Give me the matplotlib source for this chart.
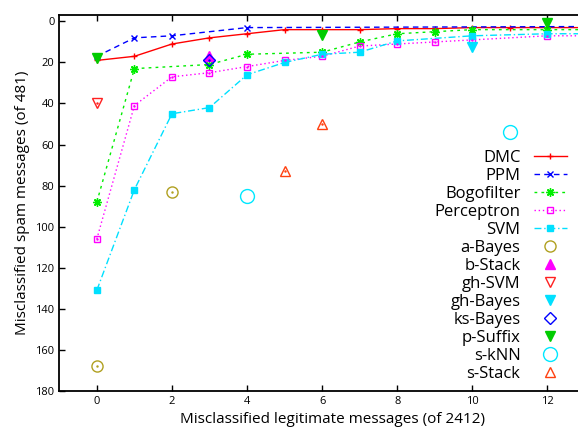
import matplotlib
matplotlib.use("Agg")
import matplotlib.pyplot as plt

plt.rcParams["font.family"] = ["Open Sans", "DejaVu Sans"]

# curves: misclassified legitimate (x) vs misclassified spam (y)
dmc_x = [0, 1, 2, 3, 4, 5, 6, 7, 8, 9, 10, 11, 12, 13]
dmc_y = [19, 17, 11, 8, 6, 4, 4, 4, 3.5, 3.5, 3, 3, 3, 3]

ppm_x = [0, 1, 2, 4, 13]
ppm_y = [17, 8, 7, 3, 2.5]

bogo_x = [0, 1, 3, 4, 6, 7, 8, 9, 10, 12, 13]
bogo_y = [88, 23, 21, 16, 15, 10, 6, 5, 4, 4, 4]

perc_x = [0, 1, 2, 3, 4, 5, 6, 7, 8, 9, 10, 12, 13]
perc_y = [106, 41, 27, 25, 22, 19, 17, 12, 11, 10, 9, 7, 7]

svm_x = [0, 1, 2, 3, 4, 5, 6, 7, 8, 10, 12, 13]
svm_y = [131, 82, 45, 42, 26, 20, 16, 15, 9.5, 7, 6, 6]

# single operating points
abayes_x, abayes_y = [0, 2], [168, 83]
bstack_x, bstack_y = [3], [17]
ghsvm_x, ghsvm_y = [0], [40]
ghbayes_x, ghbayes_y = [10], [12.5]
ksbayes_x, ksbayes_y = [3], [19]
psuffix_x, psuffix_y = [0, 6, 12], [18, 6.5, 1]
sknn_x, sknn_y = [4, 11], [85, 54]
sstack_x, sstack_y = [5, 6], [73, 50]

fig = plt.figure(figsize=(5.78, 4.28), dpi=100)
ax = fig.add_axes([0.1026, 0.0871, 0.9094, 0.8772])

ax.plot(dmc_x, dmc_y, color="#ff0000", lw=1, marker="+", ms=5, mew=1, label="DMC")
ax.plot(ppm_x, ppm_y, color="#0000ff", lw=1, ls=(0, (4, 3)), marker="x", ms=4, mew=1, label="PPM")
ax.plot(bogo_x, bogo_y, color="#00ee00", lw=1, ls=(0, (2, 3)), marker=(8, 2, 0), ms=6, mew=1, label="Bogofilter")
ax.plot(perc_x, perc_y, color="#ff00ff", lw=1, ls=(0, (1, 2)), marker="s", ms=5, mfc="none", mew=1, label="Perceptron")
ax.plot(svm_x, svm_y, color="#00e0ff", lw=1, ls=(0, (5, 2, 1, 2)), marker="s", ms=5, label="SVM")

ax.plot(abayes_x, abayes_y, ls="none", marker="o", ms=8, mfc="none", mec="#b0a020", mew=1, label="a-Bayes")
ax.plot(bstack_x, bstack_y, ls="none", marker="^", ms=7, color="#ff00ff", label="b-Stack")
ax.plot(ghsvm_x, ghsvm_y, ls="none", marker="v", ms=7, mfc="none", mec="#ff2020", mew=1, label="gh-SVM")
ax.plot(ghbayes_x, ghbayes_y, ls="none", marker="v", ms=7, color="#00e0ff", label="gh-Bayes")
ax.plot(ksbayes_x, ksbayes_y, ls="none", marker="D", ms=6, mfc="none", mec="#0000ff", mew=1, label="ks-Bayes")
ax.plot(psuffix_x, psuffix_y, ls="none", marker="v", ms=7, color="#00cc00", label="p-Suffix")
ax.plot(sknn_x, sknn_y, ls="none", marker="o", ms=10, mfc="none", mec="#00e8ff", mew=1, label="s-kNN")
ax.plot(sstack_x, sstack_y, ls="none", marker="^", ms=7, mfc="none", mec="#ff4010", mew=1, label="s-Stack")

# little centre dots of the open gnuplot markers
for xs, ys, c in [(perc_x, perc_y, "#ff00ff"), (abayes_x, abayes_y, "#b0a020"),
                  (ghsvm_x, ghsvm_y, "#ff2020"), (ksbayes_x, ksbayes_y, "#0000ff"),
                  (sstack_x, sstack_y, "#ff4010")]:
    ax.plot(xs, ys, ls="none", marker=".", ms=1.5, color=c, label="_nolegend_")

ax.set_xlim(-1, 13)
ax.set_ylim(180, -3)
ax.set_xticks(range(0, 13, 2))
ax.set_yticks(range(0, 181, 20))
ax.tick_params(direction="in", length=4, width=1, labelsize=8, top=True)
ax.tick_params(axis="x", pad=4)
for s in ax.spines.values():
    s.set_linewidth(1.3)

ax.set_xlabel("Misclassified legitimate messages (of 2412)", fontsize=11)
ax.xaxis.set_label_coords(0.52, -0.058)
ax.set_ylabel("Misclassified spam messages (of 481)", fontsize=11)

ax.legend(loc="upper right", bbox_to_anchor=(0.966, 0.641), frameon=False,
          markerfirst=False, fontsize=12, handlelength=2.0,
          labelspacing=0.12, handletextpad=0.8, borderpad=0, borderaxespad=0)

fig.savefig("out.png", dpi=100)
